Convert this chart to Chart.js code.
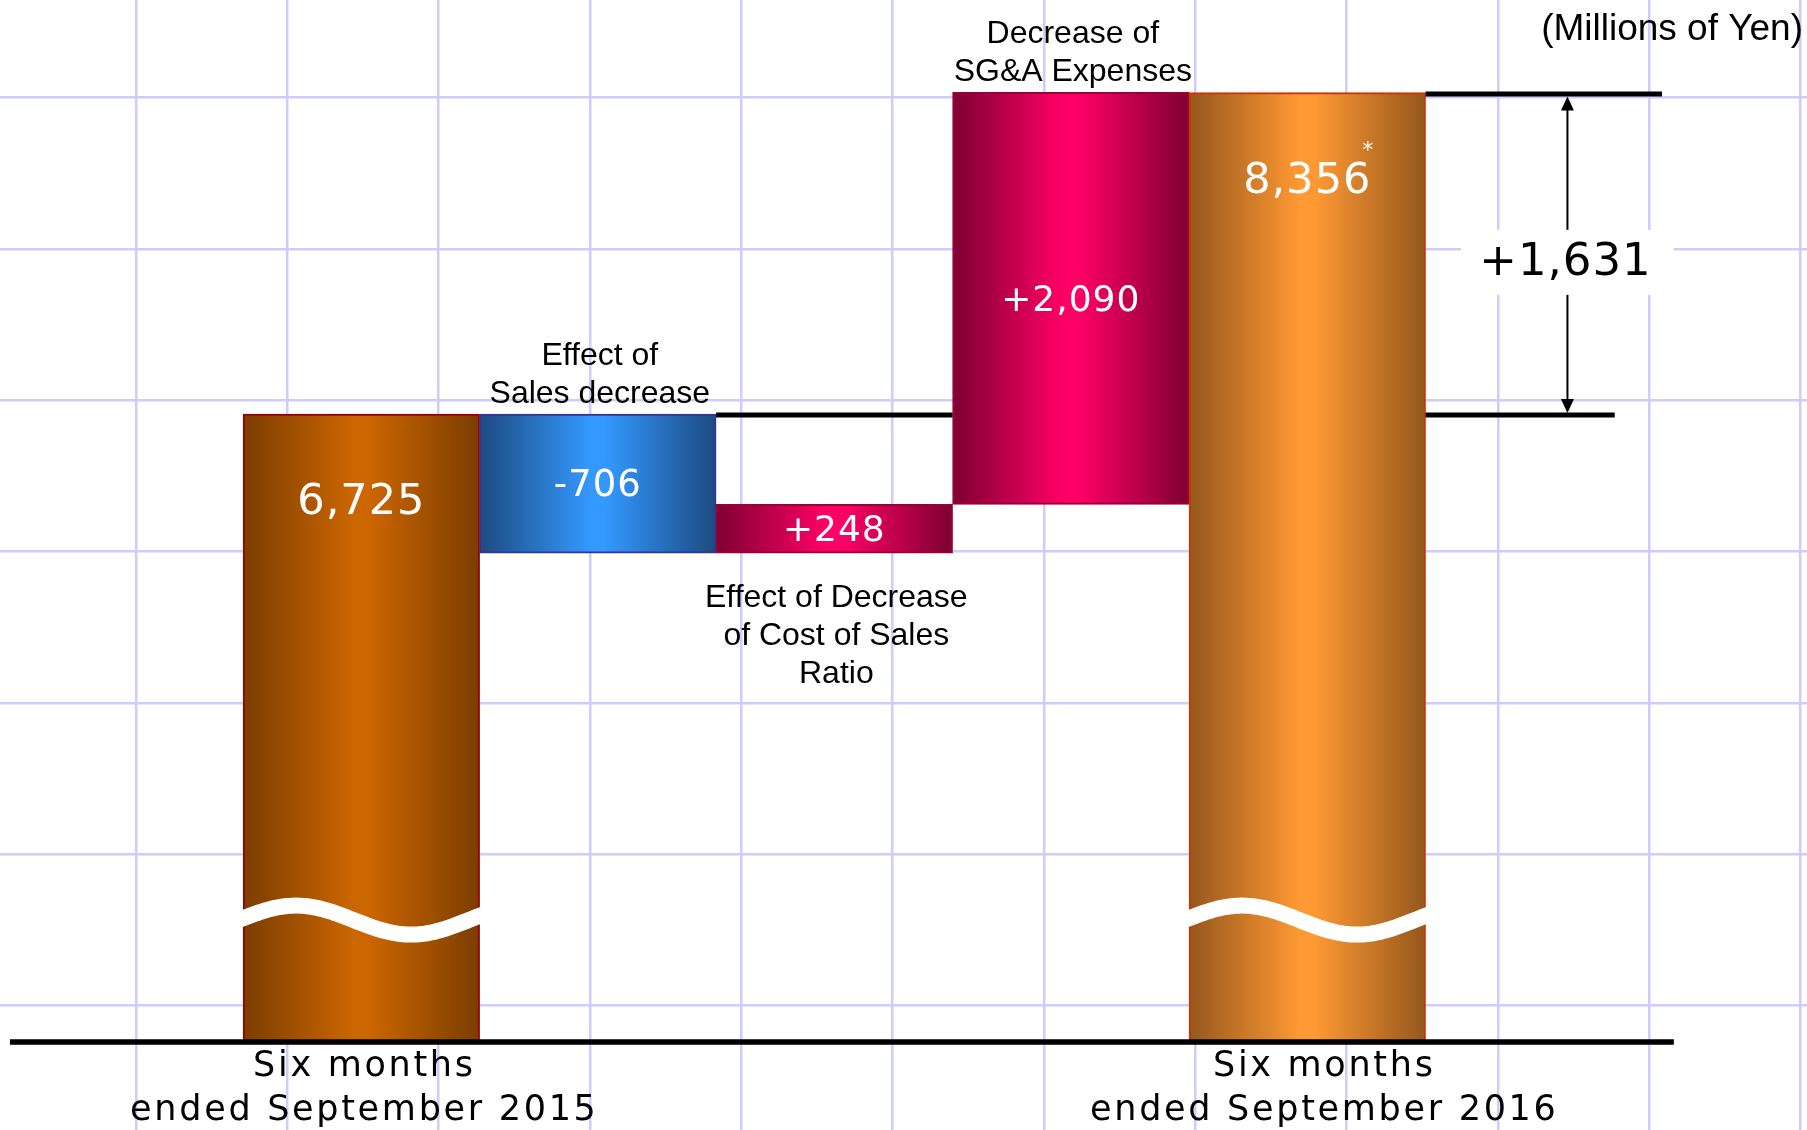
<!DOCTYPE html>
<html>
<head>
<meta charset="utf-8">
<title>Operating income change</title>
<script src="https://cdn.jsdelivr.net/npm/chart.js@4.4.0/dist/chart.umd.min.js"></script>
<style>
  html, body { margin: 0; padding: 0; background: #fff; }
  .chart-box { position: relative; width: 1807px; height: 1130px; }
</style>
</head>
<body>
<div class="chart-box"><canvas id="myChart"></canvas></div>
<script>
const categories = [
  ["Six months", "ended September 2015"],
  ["Effect of", "Sales decrease"],
  ["Effect of Decrease", "of Cost of Sales", "Ratio"],
  ["Decrease of", "SG&A Expenses"],
  ["Six months", "ended September 2016"],
];
const changes = [6725, -706, 248, 2090, 8356];
const valueLabels = ["6,725", "-706", "+248", "+2,090", "8,356"];
const valueNotes = ["", "", "", "", "*"];
const isTotal = [true, false, false, false, true];
const labelSide = ["axis", "above", "below", "above", "axis"];
const axisFloor = 3538; // the value axis is broken, bars start here
const differenceLabel = "+1,631";
const unitLabel = "(Millions of Yen)";

// colours for each bar: dark edge, bright middle, outline
const barColors = [
  { edge: "#7b3d00", mid: "#cc6600", border: "#990000" },
  { edge: "#1d4a80", mid: "#3399ff", border: "#333399" },
  { edge: "#7d0032", mid: "#ff0066", border: "#990033" },
  { edge: "#7d0032", mid: "#ff0066", border: "#990033" },
  { edge: "#95571d", mid: "#ff9933", border: "#cc3300" },
];
const valueFontSizes = [43, 37, 36, 36, 43];
const captionShift = [0, 0, 0, 0, 14];
const gridColor = "#ccccff";

// waterfall: totals stand on the floor, steps float on the running total
const ranges = [];
let running = 0;
changes.forEach((v, i) => {
  if (isTotal[i]) {
    ranges.push([axisFloor, v]);
    running = v;
  } else {
    ranges.push(v < 0 ? [running + v, running] : [running, running + v]);
    running += v;
  }
});

const barFill = (context) => {
  const chart = context.chart;
  const xs = chart.scales.x;
  const c = barColors[context.dataIndex] || barColors[0];
  if (!xs || !chart.chartArea) return c.mid;
  const cx = xs.getPixelForValue(context.dataIndex + 1);
  const half = (xs.getPixelForValue(1) - xs.getPixelForValue(0)) / 2;
  const g = chart.ctx.createLinearGradient(cx - half, 0, cx + half, 0);
  g.addColorStop(0, c.edge);
  g.addColorStop(0.47, c.mid);
  g.addColorStop(0.53, c.mid);
  g.addColorStop(1, c.edge);
  return g;
};

const drawLines = (ctx, lines, cx, firstY, lineHeight) => {
  lines.forEach((t, k) => ctx.fillText(t, cx, firstY + k * lineHeight));
};

const decor = {
  id: "decor",
  afterDatasetsDraw(chart) {
    const { ctx, scales: { x, y } } = chart;
    const bars = chart.getDatasetMeta(0).data;
    ctx.save();

    // white wavy cut through the broken bars
    bars.forEach((bar, i) => {
      if (!isTotal[i]) return;
      const left = bar.x - bar.width / 2;
      const top = Math.min(bar.y, bar.base);
      const bottom = Math.max(bar.y, bar.base);
      const mid = bottom - 122;
      ctx.save();
      ctx.beginPath();
      ctx.rect(left - 1, top, bar.width + 2, bottom - top);
      ctx.clip();
      ctx.beginPath();
      for (let t = -10; t <= bar.width + 10; t += 2) {
        const py = mid - 14.5 * Math.sin((2 * Math.PI * (t + 4.5)) / 230);
        if (t === -10) ctx.moveTo(left + t, py);
        else ctx.lineTo(left + t, py);
      }
      ctx.strokeStyle = "#fff";
      ctx.lineWidth = 16;
      ctx.stroke();
      ctx.restore();
    });

    const hline = (v, x0, x1, w, shift) => {
      const py = y.getPixelForValue(v) + shift;
      ctx.beginPath();
      ctx.moveTo(x.getPixelForValue(x0), py);
      ctx.lineTo(x.getPixelForValue(x1), py);
      ctx.lineWidth = w;
      ctx.strokeStyle = "#000";
      ctx.stroke();
    };
    hline(changes[0], 2.5, 3.5, 5, 1);
    hline(changes[0], 5.5, 6.3, 5, 1);
    hline(changes[4], 5.5, 6.5, 5, 1.5);
    hline(axisFloor, -0.486, 6.55, 5.5, 0);

    // arrow showing the difference between the two periods
    const ax = x.getPixelForValue(6.1);
    const aTop = y.getPixelForValue(changes[4]) + 4;
    const aBot = y.getPixelForValue(changes[0]) - 1;
    ctx.beginPath();
    ctx.moveTo(ax, aTop + 10);
    ctx.lineTo(ax, aBot - 10);
    ctx.lineWidth = 2;
    ctx.stroke();
    ctx.fillStyle = "#000";
    ctx.beginPath();
    ctx.moveTo(ax, aTop);
    ctx.lineTo(ax - 6.5, aTop + 14);
    ctx.lineTo(ax + 6.5, aTop + 14);
    ctx.closePath();
    ctx.fill();
    ctx.beginPath();
    ctx.moveTo(ax, aBot);
    ctx.lineTo(ax - 6.5, aBot - 14);
    ctx.lineTo(ax + 6.5, aBot - 14);
    ctx.closePath();
    ctx.fill();

    ctx.textAlign = "center";
    ctx.textBaseline = "middle";
    ctx.font = "45px 'DejaVu Sans'";
    ctx.letterSpacing = "1px";
    const dW = ctx.measureText(differenceLabel).width + 40;
    const dY = (aTop + aBot) / 2 + 7;
    ctx.fillStyle = "#fff";
    ctx.fillRect(ax - dW / 2, dY - 32, dW, 65);
    ctx.fillStyle = "#000";
    ctx.fillText(differenceLabel, ax - 2, dY + 1);

    // values inside the bars
    bars.forEach((bar, i) => {
      const top = Math.min(bar.y, bar.base);
      const bottom = Math.max(bar.y, bar.base);
      const ly = (isTotal[i] ? top + 86 : (top + bottom) / 2) + 3;
      ctx.font = valueFontSizes[i] + "px 'DejaVu Sans'";
      ctx.letterSpacing = "1px";
      ctx.fillStyle = "#fff";
      ctx.fillText(valueLabels[i], bar.x, ly);
      if (valueNotes[i]) {
        const w = ctx.measureText(valueLabels[i]).width;
        ctx.font = "22px 'DejaVu Sans'";
        ctx.fillText(valueNotes[i], bar.x + w / 2 - 3, ly - 30);
      }
    });

    // category captions
    bars.forEach((bar, i) => {
      const top = Math.min(bar.y, bar.base);
      const bottom = Math.max(bar.y, bar.base);
      const lines = categories[i];
      const cx = bar.x + captionShift[i];
      ctx.fillStyle = "#000";
      if (labelSide[i] === "axis") {
        ctx.font = "35px 'DejaVu Sans'";
        ctx.letterSpacing = "2.7px";
        drawLines(ctx, lines, cx + 3, bottom + 25, 44);
      } else {
        ctx.font = "32px 'Liberation Sans'";
        ctx.letterSpacing = "0px";
        if (labelSide[i] === "above") {
          drawLines(ctx, lines, cx + 2, top - 20 - (lines.length - 1) * 38, 38);
        } else {
          drawLines(ctx, lines, cx + 2, bottom + 45, 38);
        }
      }
    });

    ctx.letterSpacing = "0px";
    ctx.font = "37px 'Liberation Sans'";
    ctx.textAlign = "right";
    ctx.fillText(unitLabel, chart.width - 4, 30);
    ctx.restore();
  },
};

const gridScale = (axis, position, min, max, count, reverse) => ({
  type: "linear",
  axis: axis,
  position: position,
  min: min,
  max: max,
  reverse: reverse,
  offset: false,
  beginAtZero: false,
  afterBuildTicks: (s) => {
    s.ticks = Array.from({ length: count }, (_, k) => ({ value: k }));
  },
  grid: { color: gridColor, lineWidth: 2.5, drawTicks: false, offset: false },
  border: { display: false },
  ticks: { display: false },
});

new Chart(document.getElementById("myChart"), {
  type: "bar",
  data: {
    datasets: [
      {
        data: ranges.map((r, i) => ({ x: i + 1, y: r })),
        backgroundColor: barFill,
        borderColor: barColors.map((c) => c.border),
        borderWidth: 2,
        borderSkipped: false,
        barPercentage: 1,
        categoryPercentage: 1,
      },
    ],
  },
  options: {
    responsive: true,
    maintainAspectRatio: false,
    animation: false,
    events: [],
    layout: { padding: 0 },
    plugins: { legend: { display: false }, tooltip: { enabled: false } },
    scales: {
      x: {
        type: "linear",
        min: -0.528,
        max: 7.113,
        offset: false,
        display: false,
        ticks: { display: false },
        afterBuildTicks: (s) => {
          s.ticks = categories.map((_, i) => ({ value: i + 1 }));
        },
      },
      y: { type: "linear", min: 3092, max: 8826, display: false },
      gx: gridScale("x", "bottom", -0.8987, 11.042, 12, false),
      gy: gridScale("y", "left", -0.645, 6.8235, 7, true),
    },
  },
  plugins: [decor],
});
</script>
</body>
</html>
